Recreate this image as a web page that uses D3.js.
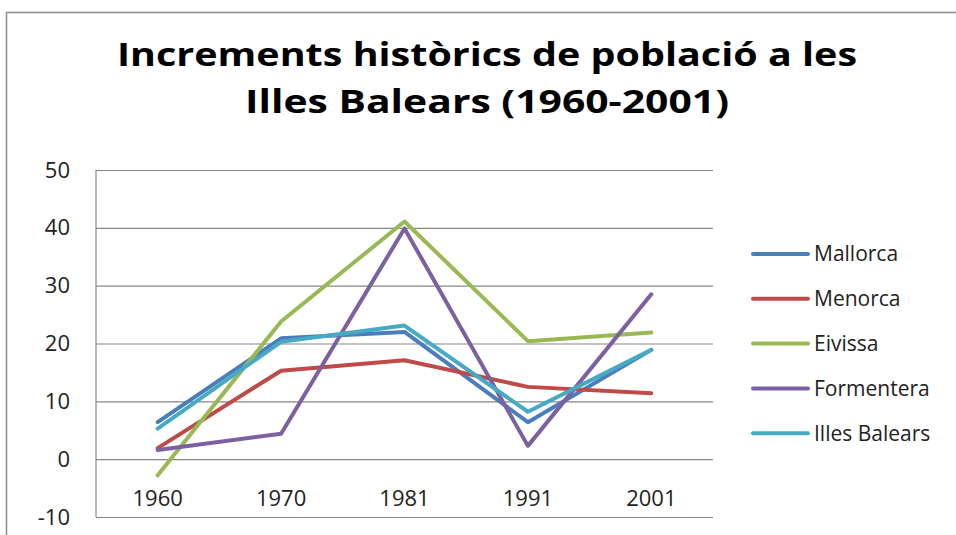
<!DOCTYPE html>
<html>
<head>
<meta charset="utf-8">
<script src="https://cdn.jsdelivr.net/npm/d3@7"></script>
<style>
  body { margin: 0; background: #fff; }
  text { font-family: "Open Sans", sans-serif; fill: #222; }
</style>
</head>
<body>
<svg id="chart" width="956" height="535"></svg>
<script>
// dades llegides del gràfic
const years = ['1960', '1970', '1981', '1991', '2001'];
const seriesNames = ['Mallorca', 'Menorca', 'Eivissa', 'Formentera', 'Illes Balears'];
const mallorca = [6.4, 20.9, 22.0, 6.4, 18.9];
const menorca = [1.9, 15.3, 17.1, 12.5, 11.4];
const eivissa = [-2.8, 23.8, 41.1, 20.4, 21.9];
const formentera = [1.6, 4.4, 39.9, 2.3, 28.5];
const illesBalears = [5.3, 20.3, 23.1, 8.2, 18.9];
const yTicks = [-10, 0, 10, 20, 30, 40, 50];
const titleLines = ['Increments històrics de població a les', 'Illes Balears (1960-2001)'];

const colors = ['#4a7ebb', '#be4b48', '#98b954', '#7d60a0', '#46aac5'];
const seriesValues = [mallorca, menorca, eivissa, formentera, illesBalears];
const series = seriesNames.map((name, i) => ({ name, color: colors[i], values: seriesValues[i] }));

const svg = d3.select('#chart');
const plot = { left: 96, right: 713, top: 170, bottom: 517 };

// marc del gràfic (només es veu la vora esquerra i la superior)
svg.append('rect')
  .attr('x', 6.5).attr('y', 12.5)
  .attr('width', 1200).attr('height', 800)
  .attr('fill', 'none').attr('stroke', '#8c8c8c').attr('stroke-width', 1.5);

// títol (amplades ajustades a l'original, que era en Calibri)
const titleWidths = [740, 484];
svg.append('g').selectAll('text')
  .data(titleLines)
  .join('text')
  .attr('x', 487).attr('y', (d, i) => 66 + i * 47)
  .attr('text-anchor', 'middle')
  .attr('font-size', 32).attr('font-weight', 700)
  .attr('textLength', (d, i) => titleWidths[i])
  .attr('lengthAdjust', 'spacingAndGlyphs')
  .style('fill', '#000')
  .text(d => d);

const x = d3.scaleBand().domain(years).range([plot.left, plot.right]);
const y = d3.scaleLinear().domain([-10, 50]).range([plot.bottom, plot.top]);
const cx = d => x(d) + x.bandwidth() / 2;

// graella + eix Y
const yAxis = svg.append('g')
  .attr('transform', `translate(${plot.left},0)`)
  .call(d3.axisLeft(y).tickValues(yTicks).tickFormat(d => String(d))
    .tickSize(-(plot.right - plot.left)).tickPadding(26));
yAxis.select('.domain').remove();
yAxis.selectAll('.tick line').attr('stroke', '#868686').attr('stroke-width', 1.2);
yAxis.selectAll('.tick text').attr('font-size', 22).attr('font-family', '"Open Sans", sans-serif').style('fill', '#222');

svg.append('line')
  .attr('x1', plot.left).attr('x2', plot.left)
  .attr('y1', y(50)).attr('y2', y(-10))
  .attr('stroke', '#868686').attr('stroke-width', 1.2);

// eix X (etiquetes sota la línia del zero)
const xAxis = svg.append('g')
  .attr('transform', `translate(0,${y(0)})`)
  .call(d3.axisBottom(x).tickSize(0).tickPadding(31));
xAxis.select('.domain').remove();
xAxis.selectAll('.tick text').attr('font-size', 22).attr('font-family', '"Open Sans", sans-serif').style('fill', '#222');

// línies de les sèries
const line = d3.line()
  .x((v, i) => cx(years[i]))
  .y(v => y(v));

svg.append('g').selectAll('path')
  .data(series)
  .join('path')
  .attr('d', d => line(d.values))
  .attr('fill', 'none')
  .attr('stroke', d => d.color)
  .attr('stroke-width', 4)
  .attr('stroke-linejoin', 'round')
  .attr('stroke-linecap', 'round');

// llegenda
const legend = svg.append('g').attr('transform', 'translate(753,254)');
const rows = legend.selectAll('g')
  .data(series)
  .join('g')
  .attr('transform', (d, i) => `translate(0,${i * 44.8})`);
rows.append('line')
  .attr('x1', 0).attr('x2', 55)
  .attr('stroke', d => d.color).attr('stroke-width', 4)
  .attr('stroke-linecap', 'round');
rows.append('text')
  .attr('x', 61).attr('dy', '0.35em')
  .attr('font-size', 21)
  .text(d => d.name);
</script>
</body>
</html>
